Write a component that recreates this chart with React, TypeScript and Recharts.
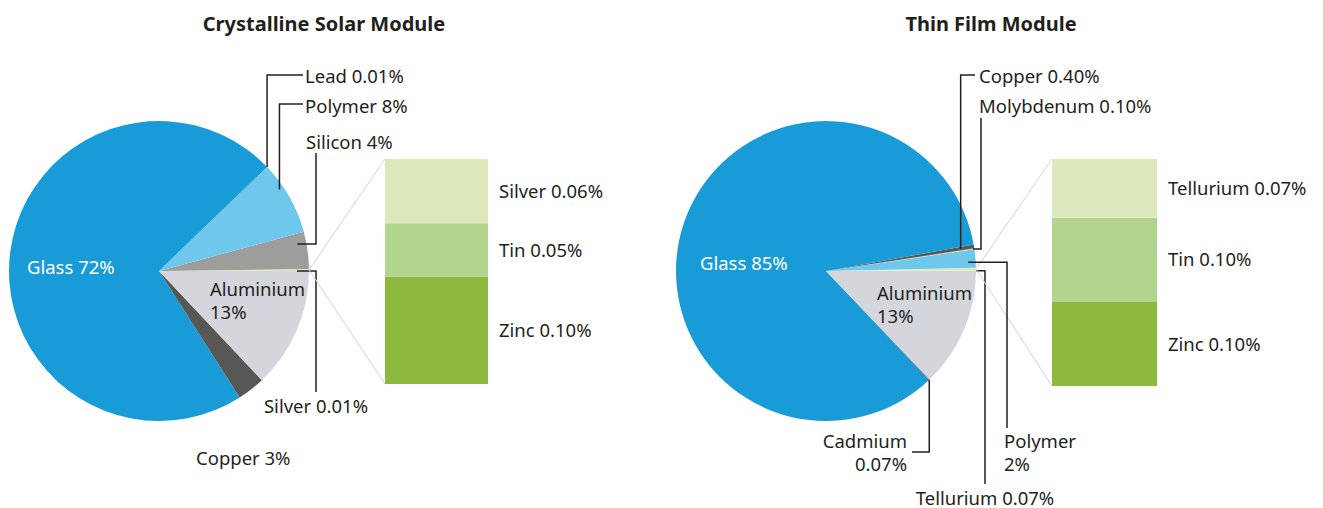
import { PieChart, Pie, Cell, BarChart, Bar, XAxis, YAxis, LabelList } from "recharts";

const FONT = "'Noto Sans', sans-serif";
const INK = "#231f20";
const FS = 18.5;

// Crystalline Solar Module – pie slices, counter-clockwise from 3 o'clock
const CS_NAMES = ["Silver", "Other", "Silicon", "Polymer", "Lead", "Glass", "Copper", "Aluminium"];
const CS_VALUES = [0.01, 0.21, 4, 8, 0.01, 72, 3, 13];
const CS_COLORS = ["#dfe9bf", "#dfe9bf", "#9d9d9c", "#6dc8eb", "#575756", "#189bd7", "#575756", "#d5d6db"];
// breakdown bar, bottom to top
const CS_BAR_NAMES = ["Zinc", "Tin", "Silver"];
const CS_BAR_VALUES = [0.1, 0.05, 0.06];

// Thin Film Module
const TF_NAMES = ["Tellurium", "Other", "Polymer", "Molybdenum", "Copper", "Glass", "Cadmium", "Aluminium"];
const TF_VALUES = [0.07, 0.27, 2, 0.1, 0.4, 85, 0.07, 13];
const TF_COLORS = ["#dfe9bf", "#dfe9bf", "#6dc8eb", "#e6cdb3", "#575756", "#189bd7", "#575756", "#d5d6db"];
const TF_BAR_NAMES = ["Zinc", "Tin", "Tellurium"];
const TF_BAR_VALUES = [0.1, 0.1, 0.07];

const BAR_COLORS = ["#8cb83d", "#b3d48c", "#dde9bd"];

const pct = (v: number) => (v < 1 ? v.toFixed(2) : String(v)) + "%";

type Step = ["h" | "v", number];
type Spec = {
    t?: number; rr?: number; steps?: Step[];
    tx: number; ty: number;
    anchor?: "start" | "middle" | "end";
    split?: boolean; color?: string;
};

// label placement relative to pie centre
const CS_SPECS: Record<string, Spec> = {
    Silver: { t: 0.5, rr: 0.92, steps: [["h", 157], ["v", 121]], tx: 157, ty: 134, anchor: "middle" },
    Silicon: { t: 0.71, rr: 0.94, steps: [["h", 157], ["v", -118]], tx: 147, ty: -130 },
    Polymer: { t: 0.66, rr: 0.97, steps: [["v", -167], ["h", 144]], tx: 146, ty: -166 },
    Lead: { t: 0.5, rr: 1, steps: [["v", -196], ["h", 144]], tx: 146, ty: -196 },
    Glass: { tx: -132, ty: -5, color: "#ffffff" },
    Copper: { tx: 37, ty: 186 },
    Aluminium: { tx: 51, ty: 17, split: true },
};

const TF_SPECS: Record<string, Spec> = {
    Tellurium: { t: 0.5, rr: 1, steps: [["h", 159], ["v", 213]], tx: 159, ty: 226, anchor: "middle" },
    Polymer: { t: 0.33, rr: 0.95, steps: [["h", 181], ["v", 157]], tx: 178, ty: 169, split: true },
    Molybdenum: { t: 0.5, rr: 0.99, steps: [["h", 155], ["v", -153]], tx: 153, ty: -166 },
    Copper: { t: 0.5, rr: 0.91, steps: [["v", -196], ["h", 149]], tx: 153, ty: -196 },
    Glass: { tx: -126, ty: -9, color: "#ffffff" },
    Cadmium: { t: 0.5, rr: 1, steps: [["v", 181], ["h", 86]], tx: 81, ty: 169, split: true, anchor: "end" },
    Aluminium: { tx: 51, ty: 21, split: true },
};

const CS_BAR = { x: 385, y: 159, w: 103, h: 225 };
const TF_BAR = { x: 1052, y: 159, w: 105, h: 227 };

function makeLabel(names: string[], values: number[], specs: Record<string, Spec>, bar: typeof CS_BAR) {
    return (p: any) => {
        const i = p.index;
        const name = names[i];
        const { cx, cy } = p;
        const pt = (t: number, rr: number) => {
            const a = ((p.startAngle + t * (p.endAngle - p.startAngle)) * Math.PI) / 180;
            return [cx + rr * p.outerRadius * Math.cos(a), cy - rr * p.outerRadius * Math.sin(a)];
        };

        if (name === "Other") {
            const [x, y] = pt(0.5, 1);
            return (
                <g>
                    <line x1={x} y1={y} x2={bar.x} y2={bar.y} stroke="#d2d2d2" strokeWidth={1} />
                    <line x1={x} y1={y} x2={bar.x} y2={bar.y + bar.h} stroke="#d2d2d2" strokeWidth={1} />
                </g>
            );
        }
        const s = specs[name];
        if (!s) return null;

        let d = "";
        if (s.steps) {
            let [x, y] = pt(s.t ?? 0.5, s.rr ?? 1);
            d = `M${x},${y}`;
            s.steps.forEach(([dir, v]) => {
                if (dir === "h") x = cx + v;
                else y = cy + v;
                d += ` L${x},${y}`;
            });
        }
        const lines = s.split ? [name, pct(values[i])] : [`${name} ${pct(values[i])}`];
        return (
            <g>
                {d && <path d={d} fill="none" stroke={INK} strokeWidth={1.5} />}
                {lines.map((ln, k) => (
                    <text
                        key={k}
                        x={cx + s.tx}
                        y={cy + s.ty + k * 23}
                        textAnchor={s.anchor ?? "start"}
                        dominantBaseline="central"
                        fill={s.color ?? INK}
                        fontSize={FS}
                        fontFamily={FONT}
                    >
                        {ln}
                    </text>
                ))}
            </g>
        );
    };
}

function BreakdownBar({ names, values, box }: { names: string[]; values: number[]; box: typeof CS_BAR }) {
    const row: Record<string, any> = { name: "row" };
    names.forEach((n, i) => (row[n] = values[i]));
    return (
        <div style={{ position: "absolute", left: box.x, top: box.y }}>
            <BarChart width={box.w + 200} height={box.h} data={[row]} margin={{ top: 0, right: 200, bottom: 0, left: 0 }} barCategoryGap={0}>
                <XAxis dataKey="name" hide />
                <YAxis hide domain={[0, "dataMax"]} width={0} />
                {names.map((n, i) => (
                    <Bar key={n} dataKey={n} stackId="s" fill={BAR_COLORS[i]} isAnimationActive={false}>
                        <LabelList
                            position="right"
                            offset={11}
                            fill={INK}
                            fontSize={FS}
                            fontFamily={FONT}
                            formatter={() => `${n} ${pct(values[i])}`}
                        />
                    </Bar>
                ))}
            </BarChart>
        </div>
    );
}

const titleStyle = (center: number): React.CSSProperties => ({
    position: "absolute", left: center - 200, width: 400, top: 9, textAlign: "center",
    fontFamily: FONT, fontWeight: 700, fontSize: 20, color: INK, lineHeight: "30px",
});

export default function App() {
    const csData = CS_NAMES.map((name, i) => ({ name, value: CS_VALUES[i] }));
    const tfData = TF_NAMES.map((name, i) => ({ name, value: TF_VALUES[i] }));

    return (
        <div style={{ position: "absolute", left: 0, top: 0, width: 1323, height: 508, background: "#fff" }}>
            <div style={{ position: "absolute", left: 0, top: 0 }}>
                <PieChart width={1323} height={508} margin={{ top: 0, right: 0, bottom: 0, left: 0 }}>
                    <Pie
                        data={csData} dataKey="value" nameKey="name"
                        cx={159} cy={271} innerRadius={0} outerRadius={150}
                        startAngle={0} endAngle={360} stroke="none"
                        label={makeLabel(CS_NAMES, CS_VALUES, CS_SPECS, CS_BAR)} labelLine={false}
                        isAnimationActive={false}
                    >
                        {CS_COLORS.map((c, i) => <Cell key={i} fill={c} />)}
                    </Pie>
                    <Pie
                        data={tfData} dataKey="value" nameKey="name"
                        cx={826} cy={271} innerRadius={0} outerRadius={150}
                        startAngle={0} endAngle={360} stroke="none"
                        label={makeLabel(TF_NAMES, TF_VALUES, TF_SPECS, TF_BAR)} labelLine={false}
                        isAnimationActive={false}
                    >
                        {TF_COLORS.map((c, i) => <Cell key={i} fill={c} />)}
                    </Pie>
                </PieChart>
            </div>
            <BreakdownBar names={CS_BAR_NAMES} values={CS_BAR_VALUES} box={CS_BAR} />
            <BreakdownBar names={TF_BAR_NAMES} values={TF_BAR_VALUES} box={TF_BAR} />
            <div style={titleStyle(324)}>Crystalline Solar Module</div>
            <div style={titleStyle(991)}>Thin Film Module</div>
        </div>
    );
}
